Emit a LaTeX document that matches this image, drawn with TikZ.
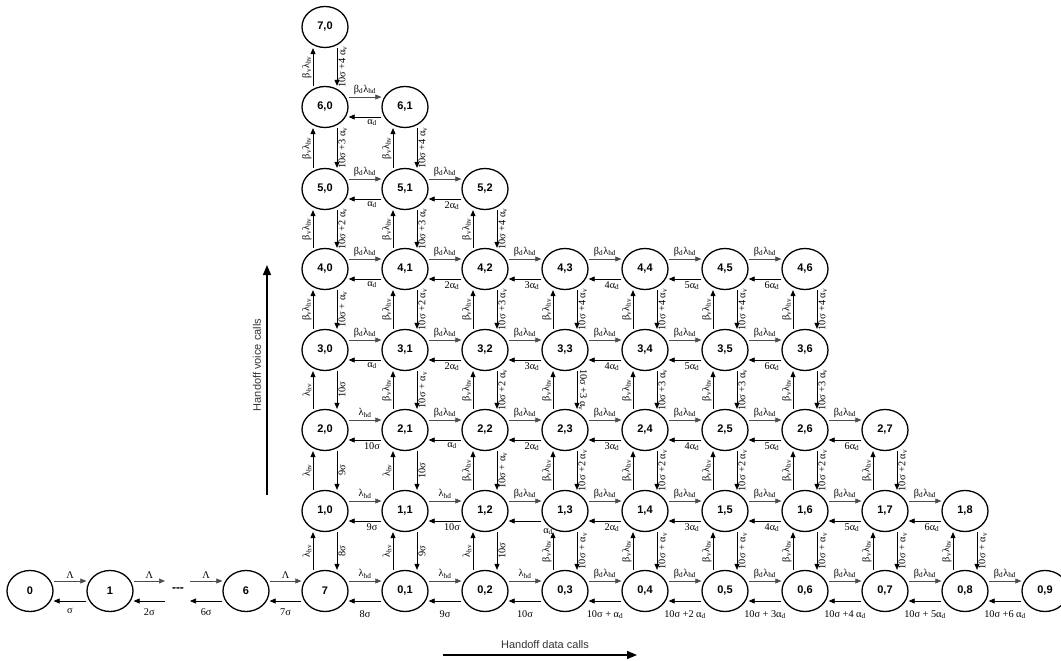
\documentclass[tikz,border=0pt]{standalone}
\usepackage{fontspec}
\setmainfont{Liberation Sans}
\newfontfamily\labfont{Liberation Serif}
\usetikzlibrary{shapes.geometric,arrows.meta}
\newcommand{\xbd}{β\textsubscript{d}}
\newcommand{\xbv}{β\textsubscript{v}}
\newcommand{\xlhd}{λ\textsubscript{hd}}
\newcommand{\xlhv}{λ\textsubscript{hv}}
\newcommand{\xad}{α\textsubscript{d}}
\newcommand{\xav}{α\textsubscript{v}}
\tikzset{
  st/.style={ellipse, draw, line width=1.3pt, minimum width=46pt, minimum height=41pt,
    inner sep=0pt, font=\fontsize{11}{12}\selectfont\bfseries},
  fwd/.style={-{Triangle[length=6pt,width=5pt]}, line width=0.6pt, draw=black!70},
  bwd/.style={-{Triangle[length=6pt,width=5pt]}, line width=0.7pt, draw=black},
  lbl/.style={font=\labfont\fontsize{10.3}{11}\selectfont, inner sep=1.2pt, text=black},
  lowlbl/.style={anchor=north, yshift=-1pt, xshift=7pt},
  row0/.style={yshift=-7pt, xshift=-7pt},
  rowL/.style={yshift=-5pt, xshift=-7pt},
  axis/.style={-{Triangle[length=10pt,width=8pt]}, line width=1.3pt},
  axlbl/.style={font=\fontsize{11}{13}\selectfont, text=black!80},
}
% #1 extra style for lower label, #2 left node, #3 right node, #4 upper label, #5 lower label
\newcommand\hpair[5][]{%
  \draw[fwd] ([yshift=10pt]#2.east) -- node[lbl, anchor=south, yshift=1pt]{#4} ([yshift=10pt]#3.west);
  \draw[bwd] ([yshift=-10pt]#3.west) -- node[lbl, lowlbl, #1]{#5} ([yshift=-10pt]#2.east);
}
% #1 extra style for right label, #2 lower node, #3 upper node, #4 left label, #5 right label
\newcommand\vpair[5][]{%
  \draw[bwd] ([xshift=-12pt]#2.north) -- node[lbl, rotate=90, anchor=south, yshift=0pt]{#4} ([xshift=-12pt]#3.south);
  \draw[bwd] ([xshift=12pt]#3.south) -- node[lbl, rotate=90, anchor=north, #1]{#5} ([xshift=12pt]#2.north);
}
\begin{document}
\begin{tikzpicture}[x=1pt,y=-1pt]
\useasboundingbox (0,0) rectangle (1061,661);
% ---- states ----
\node[st] (L0) at (30,591) {0};
\node[st] (L1) at (110,591) {1};
\node[st] (L6) at (246,591) {6};
\node[st] (n00) at (325,591) {7};
\foreach \c in {1,...,9} {\node[st] (n0\c) at ({325+80*\c},591) {0,\c};}
\foreach \r/\n/\y in {1/8/511, 2/7/430, 3/6/350, 4/6/269, 5/2/189, 6/1/107, 7/0/27} {
  \foreach \c in {0,...,\n} {\node[st] (n\r\c) at ({325+80*\c},\y) {\r,\c};}
}
\node[font=\fontsize{12}{12}\selectfont\bfseries, inner sep=0pt] (dots) at (178,590) {-{}-{}-};
\coordinate (dl) at (165,591);
\coordinate (dr) at (190,591);
% ---- left chain ----
\hpair[rowL]{L0}{L1}{Λ}{σ}
\draw[fwd] ([yshift=10pt]L1.east) -- node[lbl, anchor=south, yshift=1pt]{Λ} ([yshift=10pt]dl);
\draw[bwd] ([yshift=-10pt]dl) -- node[lbl, lowlbl, rowL]{2σ} ([yshift=-10pt]L1.east);
\draw[fwd] ([yshift=10pt]dr) -- node[lbl, anchor=south, yshift=1pt]{Λ} ([yshift=10pt]L6.west);
\draw[bwd] ([yshift=-10pt]L6.west) -- node[lbl, lowlbl, rowL]{6σ} ([yshift=-10pt]dr);
\hpair[rowL]{L6}{n00}{Λ}{7σ}
% ---- row 0 ----
\hpair[row0]{n00}{n01}{\xlhd}{8σ}
\hpair[row0]{n01}{n02}{\xlhd}{9σ}
\hpair[row0]{n02}{n03}{\xlhd}{10σ}
\hpair[row0]{n03}{n04}{\xbd\xlhd}{10σ + \xad}
\hpair[row0]{n04}{n05}{\xbd\xlhd}{10σ +2 \xad}
\hpair[row0]{n05}{n06}{\xbd\xlhd}{10σ + 3\xad}
\hpair[row0]{n06}{n07}{\xbd\xlhd}{10σ +4 \xad}
\hpair[row0]{n07}{n08}{\xbd\xlhd}{10σ + 5\xad}
\hpair[row0]{n08}{n09}{\xbd\xlhd}{10σ +6 \xad}
% ---- row 1 ----
\hpair[xshift=0pt]{n10}{n11}{\xlhd}{9σ}
\hpair{n11}{n12}{\xlhd}{10σ}
\hpair[xshift=16pt, yshift=-5pt]{n12}{n13}{\xbd\xlhd}{\xad}
\hpair{n13}{n14}{\xbd\xlhd}{2\xad}
\hpair{n14}{n15}{\xbd\xlhd}{3\xad}
\hpair{n15}{n16}{\xbd\xlhd}{4\xad}
\hpair{n16}{n17}{\xbd\xlhd}{5\xad}
\hpair{n17}{n18}{\xbd\xlhd}{6\xad}
% ---- row 2 ----
\hpair{n20}{n21}{\xlhd}{10σ}
\hpair{n21}{n22}{\xbd\xlhd}{\xad}
\hpair{n22}{n23}{\xbd\xlhd}{2\xad}
\hpair{n23}{n24}{\xbd\xlhd}{3\xad}
\hpair{n24}{n25}{\xbd\xlhd}{4\xad}
\hpair{n25}{n26}{\xbd\xlhd}{5\xad}
\hpair{n26}{n27}{\xbd\xlhd}{6\xad}
% ---- row 3 ----
\hpair{n30}{n31}{\xbd\xlhd}{\xad}
\hpair{n31}{n32}{\xbd\xlhd}{2\xad}
\hpair{n32}{n33}{\xbd\xlhd}{3\xad}
\hpair{n33}{n34}{\xbd\xlhd}{4\xad}
\hpair{n34}{n35}{\xbd\xlhd}{5\xad}
\hpair{n35}{n36}{\xbd\xlhd}{6\xad}
% ---- row 4 ----
\hpair{n40}{n41}{\xbd\xlhd}{\xad}
\hpair{n41}{n42}{\xbd\xlhd}{2\xad}
\hpair{n42}{n43}{\xbd\xlhd}{3\xad}
\hpair{n43}{n44}{\xbd\xlhd}{4\xad}
\hpair{n44}{n45}{\xbd\xlhd}{5\xad}
\hpair{n45}{n46}{\xbd\xlhd}{6\xad}
% ---- rows 5,6 ----
\hpair{n50}{n51}{\xbd\xlhd}{\xad}
\hpair{n51}{n52}{\xbd\xlhd}{2\xad}
\hpair{n60}{n61}{\xbd\xlhd}{\xad}
% ---- column 0 ----
\vpair{n00}{n10}{\xlhv}{8σ}
\vpair{n10}{n20}{\xlhv}{9σ}
\vpair{n20}{n30}{\xlhv}{10σ}
\vpair{n30}{n40}{\xbv\xlhv}{10σ + \xav}
\vpair{n40}{n50}{\xbv\xlhv}{10σ +2 \xav}
\vpair{n50}{n60}{\xbv\xlhv}{10σ +3 \xav}
\vpair{n60}{n70}{\xbv\xlhv}{10σ +4 \xav}
% ---- column 1 ----
\vpair{n01}{n11}{\xlhv}{9σ}
\vpair{n11}{n21}{\xlhv}{10σ}
\vpair{n21}{n31}{\xbv\xlhv}{10σ + \xav}
\vpair{n31}{n41}{\xbv\xlhv}{10σ +2 \xav}
\vpair{n41}{n51}{\xbv\xlhv}{10σ +3 \xav}
\vpair{n51}{n61}{\xbv\xlhv}{10σ +4 \xav}
% ---- column 2 ----
\vpair{n02}{n12}{\xlhv}{10σ}
\vpair{n12}{n22}{\xbv\xlhv}{10σ + \xav}
\vpair{n22}{n32}{\xbv\xlhv}{10σ +2 \xav}
\vpair{n32}{n42}{\xbv\xlhv}{10σ +3 \xav}
\vpair{n42}{n52}{\xbv\xlhv}{10σ +4 \xav}
% ---- column 3 ----
\vpair{n03}{n13}{\xbv\xlhv}{10σ + \xav}
\vpair{n13}{n23}{\xbv\xlhv}{10σ +2 \xav}
\vpair[rotate=180, anchor=south]{n23}{n33}{\xbv\xlhv}{10σ +3 \xav}
\vpair{n33}{n43}{\xbv\xlhv}{10σ +4 \xav}
% ---- columns 4..6 ----
\foreach \c in {4,5,6} {
  \vpair{n0\c}{n1\c}{\xbv\xlhv}{10σ + \xav}
  \vpair{n1\c}{n2\c}{\xbv\xlhv}{10σ +2 \xav}
  \vpair{n2\c}{n3\c}{\xbv\xlhv}{10σ +3 \xav}
  \vpair{n3\c}{n4\c}{\xbv\xlhv}{10σ +4 \xav}
}
% ---- columns 7,8 ----
\vpair{n07}{n17}{\xbv\xlhv}{10σ + \xav}
\vpair{n17}{n27}{\xbv\xlhv}{10σ +2 \xav}
\vpair{n08}{n18}{\xbv\xlhv}{10σ + \xav}
% ---- axes ----
\coordinate (va) at (267,495);
\coordinate (vb) at (267,265);
\draw[axis] (va) -- (vb);
\node[axlbl, rotate=90] (vlab) at (257,365) {Handoff voice calls};
\coordinate (ha) at (443,655);
\coordinate (hb) at (637,655);
\draw[axis] (ha) -- (hb);
\node[axlbl] (hlab) at (545,645) {Handoff data calls};
\end{tikzpicture}
\end{document}
